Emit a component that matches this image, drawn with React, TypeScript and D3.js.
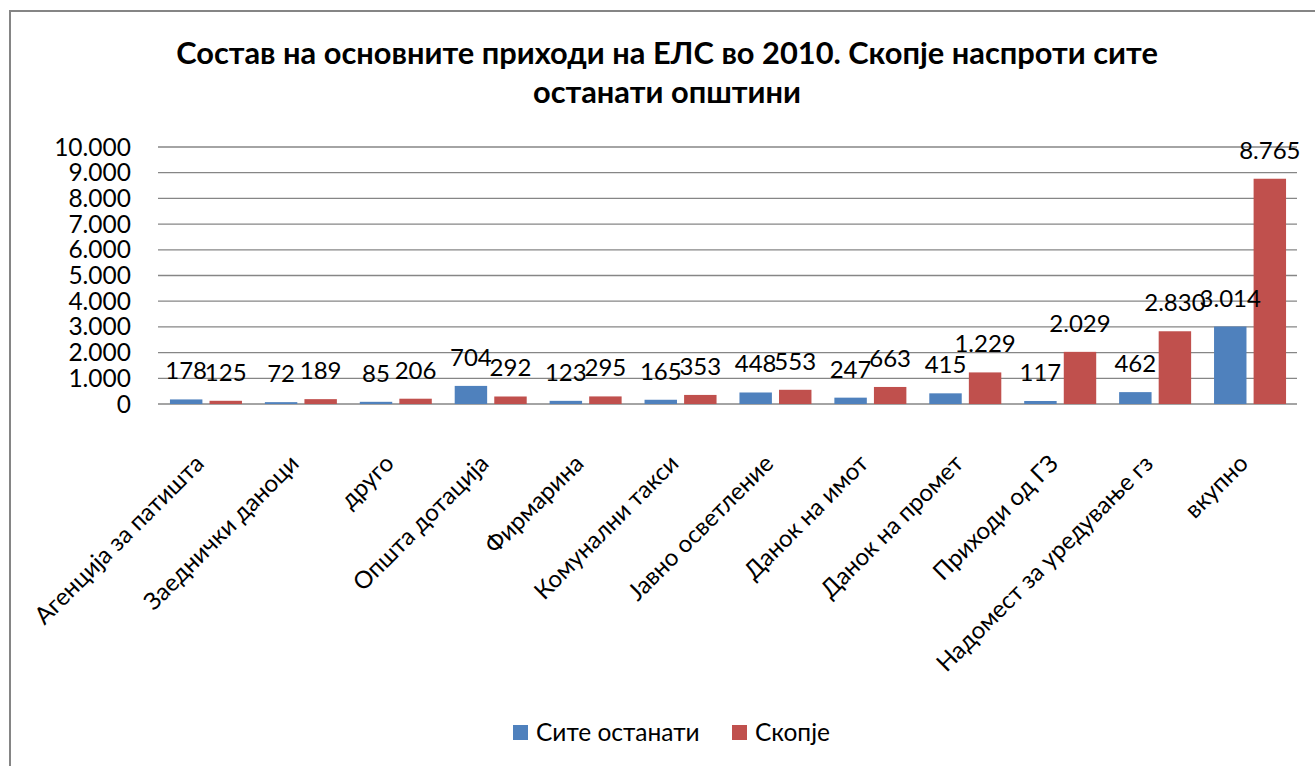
import React from "react";
import * as d3 from "d3";

const categories = [
  "Агенција за патишта",
  "Заеднички даноци",
  "друго",
  "Општа дотација",
  "Фирмарина",
  "Комунални такси",
  "Јавно осветление",
  "Данок на имот",
  "Данок на промет",
  "Приходи од ГЗ",
  "Надомест за уредување гз",
  "вкупно",
];
const seriesNames = ["Сите останати", "Скопје"];
const siteOstanati = [178, 72, 85, 704, 123, 165, 448, 247, 415, 117, 462, 3014];
const skopje = [125, 189, 206, 292, 295, 353, 553, 663, 1229, 2029, 2830, 8765];
const yTicks = [0, 1000, 2000, 3000, 4000, 5000, 6000, 7000, 8000, 9000, 10000];
const titleLines = [
  "Состав на основните приходи на ЕЛС во 2010. Скопје наспроти сите",
  "останати општини",
];
const colors = ["#4F81BD", "#C0504D"];

const W = 1315;
const H = 766;
const FONT = "Lato, 'Open Sans', sans-serif";

const fmt = (v: number) => {
  const s = String(v);
  return s.replace(/\B(?=(\d{3})+(?!\d))/g, ".");
};

export default function App() {
  const plotLeft = 158;
  const plotRight = 1297;
  const x = d3.scaleBand<string>().domain(categories).range([plotLeft, plotRight]).padding(0);
  const y = d3.scaleLinear().domain([0, 10000]).range([404, 147]);
  const xs = d3.scaleBand<string>().domain(seriesNames).range([-35.5, 36.5]).paddingInner(0.18);
  const series = [siteOstanati, skopje];

  return (
    <svg width={W} height={H} style={{ position: "absolute", left: 0, top: 0, background: "#fff" }}>
      <rect x={0} y={0} width={W} height={H} fill="#fff" />
      <rect x={10} y={11} width={W + 50} height={H + 50} fill="#fff" stroke="#858585" strokeWidth={2} />
      {titleLines.map((t, i) => (
        <text
          key={i}
          x={667}
          y={64 + i * 39}
          textAnchor="middle"
          fontFamily={FONT}
          fontWeight="bold"
          fontSize={30.8}
          fill="#000"
        >
          {t}
        </text>
      ))}
      {yTicks.map((t) => (
        <g key={t}>
          <line x1={plotLeft} x2={plotRight} y1={y(t)} y2={y(t)} stroke="#868686" strokeWidth={1.3} />
          <text x={131} y={y(t)} dy="0.35em" textAnchor="end" fontFamily={FONT} fontSize={24.5} fill="#000">
            {fmt(t)}
          </text>
        </g>
      ))}
      {series.map((vals, si) =>
        categories.map((c, ci) => {
          const cx = (x(c) as number) + x.bandwidth() / 2;
          const bx = cx + (xs(seriesNames[si]) as number);
          const bw = xs.bandwidth();
          return (
            <g key={`${si}-${ci}`}>
              <rect x={bx} y={y(vals[ci])} width={bw} height={y(0) - y(vals[ci])} fill={colors[si]} />
            </g>
          );
        })
      )}
      {series.map((vals, si) =>
        categories.map((c, ci) => {
          const cx = (x(c) as number) + x.bandwidth() / 2;
          const bx = cx + (xs(seriesNames[si]) as number) + xs.bandwidth() / 2;
          return (
            <text
              key={`l${si}-${ci}`}
              x={bx}
              y={y(vals[ci]) - 20}
              textAnchor="middle"
              fontFamily={FONT}
              fontSize={24}
              fill="#000"
            >
              {fmt(vals[ci])}
            </text>
          );
        })
      )}
      {categories.map((c) => {
        const cx = (x(c) as number) + x.bandwidth() / 2;
        return (
          <text
            key={c}
            transform={`translate(${cx},465) rotate(-45)`}
            textAnchor="end"
            fontFamily={FONT}
            fontSize={24}
            fill="#000"
          >
            {c}
          </text>
        );
      })}
      {seriesNames.map((s, i) => {
        const lx = [513, 732][i];
        return (
          <g key={s}>
            <rect x={lx} y={725} width={15} height={15} fill={colors[i]} />
            <text x={lx + 23} y={741} fontFamily={FONT} fontSize={24.5} fill="#000">
              {s}
            </text>
          </g>
        );
      })}
    </svg>
  );
}
